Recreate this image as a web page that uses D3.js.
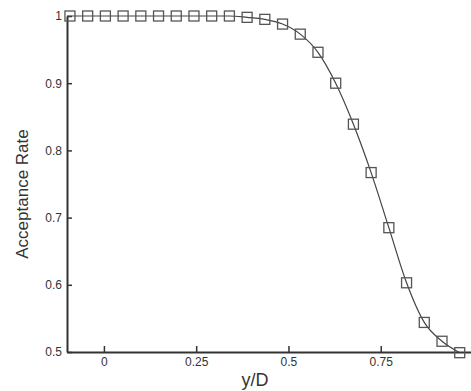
<!DOCTYPE html>
<html>
<head>
<meta charset="utf-8">
<script src="https://cdn.jsdelivr.net/npm/d3@7"></script>
<style>
  html, body { margin: 0; padding: 0; background: #fff; }
  svg { display: block; }
</style>
</head>
<body>
<svg id="chart" width="471" height="391"></svg>
<script>
// Acceptance rate across the channel (y/D)
const yOverD = [-0.092, -0.044, 0.004, 0.052, 0.100, 0.148, 0.196, 0.244, 0.292, 0.340,
                0.388, 0.436, 0.484, 0.532, 0.580, 0.628, 0.676, 0.724, 0.772, 0.820,
                0.868, 0.916, 0.964];
const acceptance = [1.000, 1.000, 1.000, 1.000, 1.000, 1.000, 1.000, 1.000, 1.000, 1.000,
                    0.998, 0.995, 0.988, 0.973, 0.946, 0.900, 0.839, 0.767, 0.685, 0.603,
                    0.544, 0.516, 0.499];
const xTicks = [0, 0.25, 0.5, 0.75];
const xTickLabels = ["0", "0.25", "0.5", "0.75"];
const yTicks = [0.5, 0.6, 0.7, 0.8, 0.9, 1];
const yTickLabels = ["0.5", "0.6", "0.7", "0.8", "0.9", "1"];

const svg = d3.select("#chart");
const ink = "#333";
const font = "'Liberation Sans', Arial, Helvetica, sans-serif";

const x = d3.scaleLinear().domain([-0.1, 1.0]).range([67, 473]);
const y = d3.scaleLinear().domain([0.5, 1.0]).range([352, 16]);

// X axis: baseline with inward ticks
const xAxis = svg.append("g").attr("transform", `translate(0,${y(0.5)})`)
  .call(d3.axisBottom(x).tickValues(xTicks).tickSizeInner(-6).tickSizeOuter(0)
        .tickFormat((d, i) => xTickLabels[i]));
xAxis.select(".domain").attr("stroke", ink).attr("stroke-width", 2);
xAxis.selectAll(".tick line").attr("stroke", ink).attr("stroke-width", 1.5);
xAxis.selectAll(".tick text").attr("y", 5).attr("dy", "0.71em")
  .attr("fill", ink).style("font-family", font).style("font-size", "12px");

// Y axis
const yAxis = svg.append("g").attr("transform", `translate(${x(-0.1)},0)`)
  .call(d3.axisLeft(y).tickValues(yTicks).tickSizeInner(-5).tickSizeOuter(0)
        .tickFormat((d, i) => yTickLabels[i]));
yAxis.select(".domain").attr("stroke", ink).attr("stroke-width", 2);
yAxis.selectAll(".tick line").attr("stroke", ink).attr("stroke-width", 1.5);
yAxis.selectAll(".tick text").attr("x", -5)
  .attr("fill", ink).style("font-family", font).style("font-size", "12px");

// Axis titles
svg.append("text")
  .attr("x", 255).attr("y", 386)
  .attr("text-anchor", "middle")
  .attr("fill", ink).style("font-family", font).style("font-size", "18px")
  .text("y/D");
svg.append("text")
  .attr("transform", "translate(28,194) rotate(-90)")
  .attr("text-anchor", "middle")
  .attr("fill", ink).style("font-family", font).style("font-size", "17px")
  .text("Acceptance Rate");

const pts = yOverD.map((d, i) => [d, acceptance[i]]);

// Smooth curve through the samples, starting at the left axis
const linePts = [[x.domain()[0], acceptance[0]], ...pts];
svg.append("path")
  .datum(linePts)
  .attr("fill", "none")
  .attr("stroke", "#444")
  .attr("stroke-width", 1.2)
  .attr("d", d3.line().x(d => x(d[0])).y(d => y(d[1])).curve(d3.curveMonotoneX));

// Square markers
const s = 10;
svg.append("g").selectAll("rect")
  .data(pts)
  .join("rect")
  .attr("x", d => x(d[0]) - s / 2)
  .attr("y", d => y(d[1]) - s / 2)
  .attr("width", s).attr("height", s)
  .attr("fill", "none")
  .attr("stroke", "#555")
  .attr("stroke-width", 1.3);
</script>
</body>
</html>
